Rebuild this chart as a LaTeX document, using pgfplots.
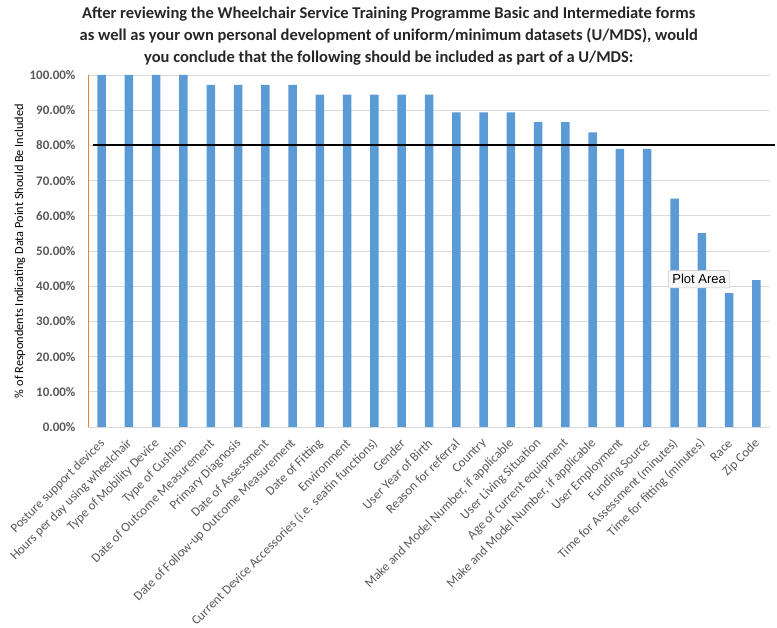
\documentclass[border=0pt]{standalone}
\usepackage{pgfplots}
\pgfplotsset{compat=1.18}
\usepackage{fontspec}
\setmainfont{Carlito}
\newfontfamily\tipfont{Liberation Sans}
\definecolor{barblue}{HTML}{5B9BD5}
\definecolor{txtgray}{HTML}{595959}
\definecolor{gridgray}{HTML}{D9D9D9}
\definecolor{axorange}{HTML}{ED7D31}
\begin{document}
\begin{tikzpicture}
\useasboundingbox (0,0) rectangle (777pt,628pt);
\begin{axis}[
  at={(88pt,201pt)}, anchor=south west,
  scale only axis, width=682pt, height=352pt,
  xmin=-0.5, xmax=24.5, ymin=0, ymax=100,
  ybar, bar width=8.5pt,
  clip=false,
  axis lines*=left,
  x axis line style={draw=gridgray, line width=0.8pt},
  y axis line style={draw=axorange, line width=0.9pt},
  major tick length=0pt,
  ymajorgrids, grid style={draw=gridgray, line width=0.8pt},
  ytick={0,10,...,100},
  yticklabels={0.00\%,10.00\%,20.00\%,30.00\%,40.00\%,50.00\%,60.00\%,70.00\%,80.00\%,90.00\%,100.00\%},
  yticklabel style={font=\fontsize{13}{15}\selectfont\bfseries, color=txtgray, xshift=-9pt},
  xtick={0,...,24},
  xticklabels={{Posture support devices},{Hours per day using wheelchair},{Type of Mobility Device},{Type of Cushion},{Date of Outcome Measurement},{Primary Diagnosis},{Date of Assessment},{Date of Follow-up Outcome Measurement},{Date of Fitting},{Environment},{Current Device Accessories (i.e. seatin functions)},{Gender},{User Year of Birth},{Reason for referral},{Country},{Make and Model Number, if applicable},{User Living Situation},{Age of current equipment},{Make and Model Number, if applicable},{User Employment},{Funding Source},{Time for Assessment (minutes)},{Time for fitting (minutes)},{Race},{Zip Code}},
  xticklabel style={rotate=45, anchor=east, font=\fontsize{13}{15}\selectfont, color=txtgray, yshift=-11pt, xshift=-6pt},
  ylabel={\% of Respondents Indicating Data Point Should Be Included},
  ylabel style={at={(axis description cs:-0.0997,0.5)}, anchor=center, rotate=0, font=\fontsize{12.3}{14}\selectfont, color=black},
  title={After reviewing the Wheelchair Service Training Programme Basic and Intermediate forms\\as well as your own personal development of uniform/minimum datasets (U/MDS), would\\you conclude that the following should be included as part of a U/MDS:},
  title style={at={(axis description cs:0.441,1)}, anchor=south, yshift=0pt, align=center, font=\fontsize{16.5}{22}\selectfont\bfseries, color=black!85},
]
\addplot[fill=barblue, draw=none] coordinates {
(0,100) (1,100) (2,100) (3,100)
(4,97.2) (5,97.2) (6,97.2) (7,97.2)
(8,94.4) (9,94.4) (10,94.4) (11,94.4) (12,94.4)
(13,89.4) (14,89.4) (15,89.4)
(16,86.6) (17,86.6)
(18,83.7)
(19,79.0) (20,79.0)
(21,64.9) (22,55.1) (23,38.0) (24,41.7)
};
\addplot[sharp plot, black, line width=1.8pt, forget plot] coordinates {(-0.32,80) (24.68,80)};
\node[draw=gray!45, fill=gray!6, rounded corners=1pt, inner xsep=4pt, inner ysep=4pt, font=\tipfont\fontsize{13}{15}\selectfont] at (axis cs:21.9,42) {Plot Area};
\end{axis}
\end{tikzpicture}
\end{document}
